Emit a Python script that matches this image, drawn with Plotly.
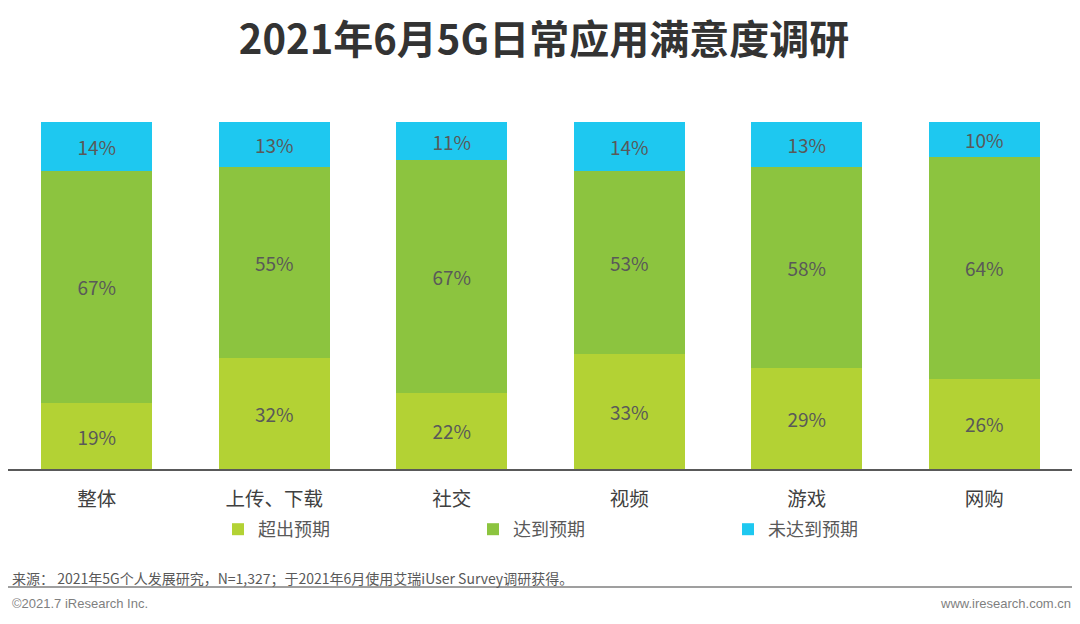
import plotly.graph_objects as go

categories = ["整体", "上传、下载", "社交", "视频", "游戏", "网购"]
exceed = [19, 32, 22, 33, 29, 26]
meet = [67, 55, 67, 53, 58, 64]
below = [14, 13, 11, 14, 13, 10]
series_names = ["超出预期", "达到预期", "未达到预期"]
colors = ["#B3D234", "#8CC43F", "#1EC8F0"]

FONT = "Noto Sans CJK SC"
TXT = "#595959"

# The page has an 8px body margin, so the figure is sized to the visible area.
W, H = 1072, 616
L, R, T, B = 0, 7, 114, 155
PH = H - T - B  # plot height in px


def py(y_px):
    """paper y for a figure pixel row"""
    return (H - B - y_px) / PH


fig = go.Figure()
for name, vals, col in zip(series_names, [exceed, meet, below], colors):
    fig.add_trace(go.Bar(
        x=categories, y=vals, name=name,
        marker=dict(color=col, line=dict(width=0)),
        text=[f"{v}%" for v in vals],
        textposition="inside", insidetextanchor="middle",
        textfont=dict(family=FONT, size=19, color=TXT),
        textangle=0,
        hoverinfo="skip",
    ))

fig.update_layout(
    barmode="stack",
    bargap=0.374,
    width=W, height=H,
    margin=dict(l=L, r=R, t=T, b=B),
    paper_bgcolor="white", plot_bgcolor="white",
    font=dict(family=FONT, color=TXT),
    title=dict(
        text="<b>2021年6月5G日常应用满意度调研</b>",
        x=0.5, xanchor="center", y=1 - 32 / H, yanchor="middle",
        font=dict(family=FONT, size=40, color="#333333"),
    ),
    showlegend=True,
    legend=dict(
        orientation="h", x=210 / (W - L - R), xanchor="left", y=py(503), yanchor="top",
        font=dict(family=FONT, size=18, color=TXT),
        entrywidth=210, entrywidthmode="pixels",
        itemwidth=30, traceorder="normal",
        bgcolor="rgba(0,0,0,0)",
    ),
    xaxis=dict(
        showline=True, linecolor="#595959", linewidth=2,
        ticks="", showgrid=False, zeroline=False,
        tickfont=dict(family=FONT, size=19.5, color="#404040"),
        ticklabelstandoff=12, fixedrange=True,
    ),
    yaxis=dict(
        range=[0, 100], visible=False, showgrid=False, zeroline=False,
        fixedrange=True,
    ),
)

fig.add_annotation(
    text="来源： 2021年5G个人发展研究，N=1,327；于2021年6月使用艾瑞iUser Survey调研获得。",
    xref="paper", yref="paper", x=0, xanchor="left", y=py(570), yanchor="middle",
    showarrow=False, font=dict(family=FONT, size=14, color=TXT), xshift=2,
)
fig.add_annotation(
    text="©2021.7 iResearch Inc.",
    xref="paper", yref="paper", x=0, xanchor="left", y=py(595), yanchor="middle",
    showarrow=False, font=dict(family="Liberation Sans", size=13, color="#7f7f7f"), xshift=2,
)
fig.add_annotation(
    text="www.iresearch.com.cn",
    xref="paper", yref="paper", x=1, xanchor="right", y=py(595), yanchor="middle",
    showarrow=False, font=dict(family="Liberation Sans", size=13, color="#7f7f7f"), xshift=0,
)
fig.add_shape(
    type="line", xref="paper", yref="paper",
    x0=0, x1=1, y0=py(579), y1=py(579),
    line=dict(color="#7f7f7f", width=1.5),
)

fig.write_html("out.html", config={"displayModeBar": False})
